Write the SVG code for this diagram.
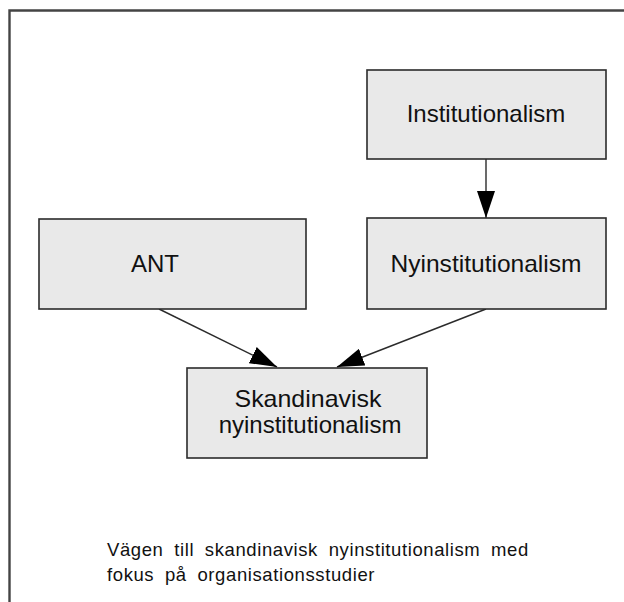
<svg xmlns="http://www.w3.org/2000/svg" width="624" height="602" viewBox="0 0 624 602">
  <style>
    .box { fill: #e9e9e9; stroke: #2b2b2b; stroke-width: 1.6; }
    .lbl { font-family: "Liberation Sans", Arial, sans-serif; font-size: 24px; fill: #111; text-anchor: middle; }
    .cap { font-family: "Liberation Sans", Arial, sans-serif; font-size: 18.5px; fill: #111; letter-spacing: 0.6px; word-spacing: 5px; }
    .edge { stroke: #2b2b2b; stroke-width: 1.4; fill: none; marker-end: url(#arrow); }
    .frame { stroke: #444; stroke-width: 2.4; fill: none; }
  </style>
  <defs>
    <marker id="arrow" markerUnits="userSpaceOnUse" markerWidth="28" markerHeight="18" viewBox="0 0 28 18" refX="27" refY="9" orient="auto">
      <path d="M0,0 L27,9 L0,18 Z" fill="#000"/>
    </marker>
  </defs>
  <rect width="624" height="602" fill="#fff"/>
  <path class="frame" d="M9.5,602 V10.5 H624"/>

  <g id="connectors">
    <line class="edge" x1="486" y1="159" x2="486" y2="218"/>
    <line class="edge" x1="159" y1="309" x2="277" y2="367"/>
    <line class="edge" x1="486" y1="309" x2="337" y2="367"/>
  </g>

  <g id="institutionalism">
    <rect class="box" x="367" y="70" width="239" height="89"/>
    <text class="lbl" x="486" y="122">Institutionalism</text>
  </g>
  <g id="nyinstitutionalism">
    <rect class="box" x="367" y="218" width="239" height="91"/>
    <text class="lbl" x="486" y="272" textLength="191" lengthAdjust="spacingAndGlyphs">Nyinstitutionalism</text>
  </g>
  <g id="ant">
    <rect class="box" x="39" y="219" width="267" height="90"/>
    <text class="lbl" x="155" y="272">ANT</text>
  </g>
  <g id="skandinavisk">
    <rect class="box" x="187" y="368" width="240" height="90"/>
    <text class="lbl" x="308" y="407" textLength="147" lengthAdjust="spacingAndGlyphs">Skandinavisk</text>
    <text class="lbl" x="310" y="433">nyinstitutionalism</text>
  </g>

  <g id="caption">
    <text class="cap" x="107" y="556">Vägen till skandinavisk nyinstitutionalism med</text>
    <text class="cap" x="107" y="581">fokus på organisationsstudier</text>
  </g>
</svg>
